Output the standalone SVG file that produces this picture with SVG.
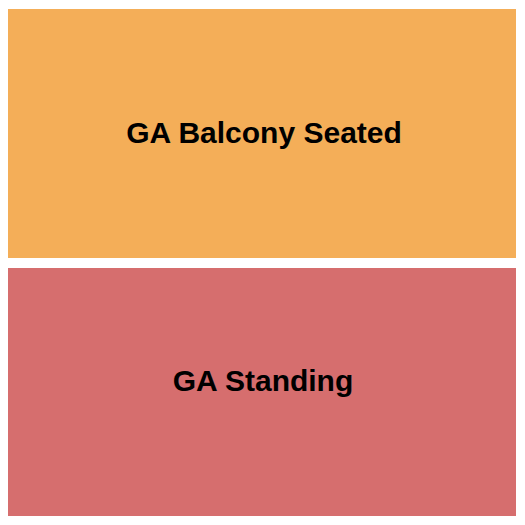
<svg xmlns="http://www.w3.org/2000/svg" width="525" height="525" viewBox="0 0 525 525">
<style>
.lbl{font-family:"Liberation Sans",Arial,sans-serif;font-weight:bold;font-size:30px;fill:#000;text-anchor:middle}
</style>
<rect x="0" y="0" width="525" height="525" fill="#ffffff"/>
<g id="ga-balcony-seated">
<rect x="8" y="9" width="508" height="249" fill="#F4AE58"/>
<text class="lbl" x="264" y="143">GA Balcony Seated</text>
</g>
<g id="ga-standing">
<rect x="8" y="268" width="508" height="248" fill="#D66E6E"/>
<text class="lbl" x="263" y="391">GA Standing</text>
</g>
<g id="connectors"></g>
</svg>
